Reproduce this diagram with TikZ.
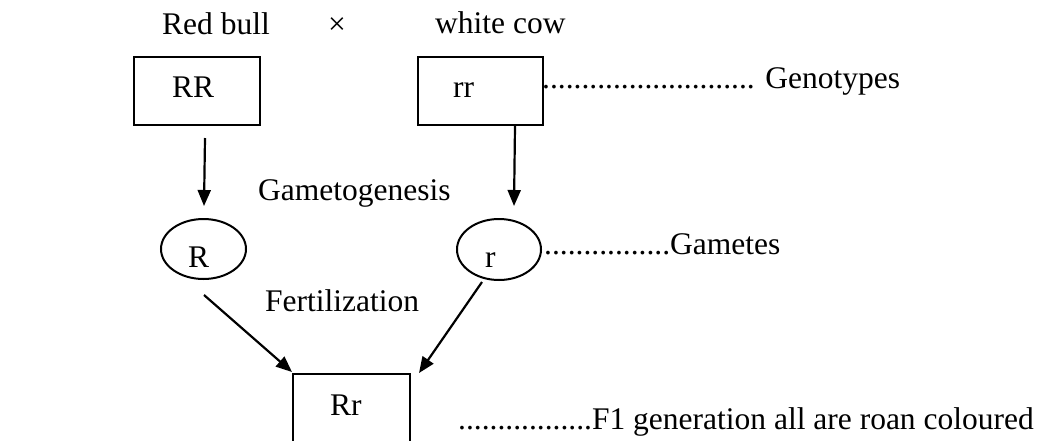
\documentclass[tikz,border=0pt]{standalone}
\usepackage{fontspec}
\setmainfont{Liberation Serif}
\usetikzlibrary{arrows.meta,shapes.geometric}
\begin{document}
\begin{tikzpicture}[x=1pt,y=-1pt,
  txt/.style={inner sep=0pt, anchor=base west, font=\fontsize{31.5}{38}\selectfont},
  gbox/.style={draw, line width=2pt, rectangle, inner sep=0pt, anchor=north west},
  gamete/.style={draw, line width=2pt, ellipse, inner sep=0pt},
  arr/.style={line width=2.2pt, -{Triangle[length=16pt,width=13pt]}}]
\useasboundingbox (0,0) rectangle (1044,440);
\clip (0,0) rectangle (1044,440);

% parents
\node[txt] (red) at (162,34) {Red bull};
\node[txt] (cross) at (328,34) {×};
\node[txt] (white) at (435,33) {white cow};

% genotype boxes
\node[gbox, minimum width=126pt, minimum height=68pt] (RR) at (133,56) {};
\node[txt] (RRt) at (172,97) {RR};
\node[gbox, minimum width=125pt, minimum height=68pt] (rr) at (417,56) {};
\node[txt] (rrt) at (453,97) {rr};
\node[txt] (geno) at (542,88) {........................... Genotypes};

% gametes
\node[gamete, minimum width=85pt, minimum height=60pt] (R) at (203.5,249) {};
\node[txt] (Rt) at (188,267) {R};
\node[gamete, minimum width=84pt, minimum height=61pt] (r) at (499,249.5) {};
\node[txt] (rt) at (485,267) {r};
\node[txt] (gam) at (544,254) {................Gametes};

\node[txt] (gameto) at (258,200) {Gametogenesis};
\node[txt] (fert) at (265,311) {Fertilization};

% offspring
\node[gbox, minimum width=117pt, minimum height=85pt] (Rr) at (292,373) {};
\node[txt] (Rrt) at (330,415) {Rr};
\node[txt] (f1) at (458,429) {.................F1 generation all are roan coloured};

% arrows
\draw[arr] ([shift={(8,12)}]RR.south) -- ([shift={(0.5,-12)}]R.north);
\draw[arr] ([shift={(34.5,0)}]rr.south) -- ([shift={(15,-12)}]r.north);
\draw[arr] ([shift={(0.5,15)}]R.south) -- ([shift={(0,-1)}]Rr.north west);
\draw[arr] ([shift={(-17,1)}]r.south) -- ([shift={(8,0)}]Rr.north east);
\end{tikzpicture}
\end{document}
